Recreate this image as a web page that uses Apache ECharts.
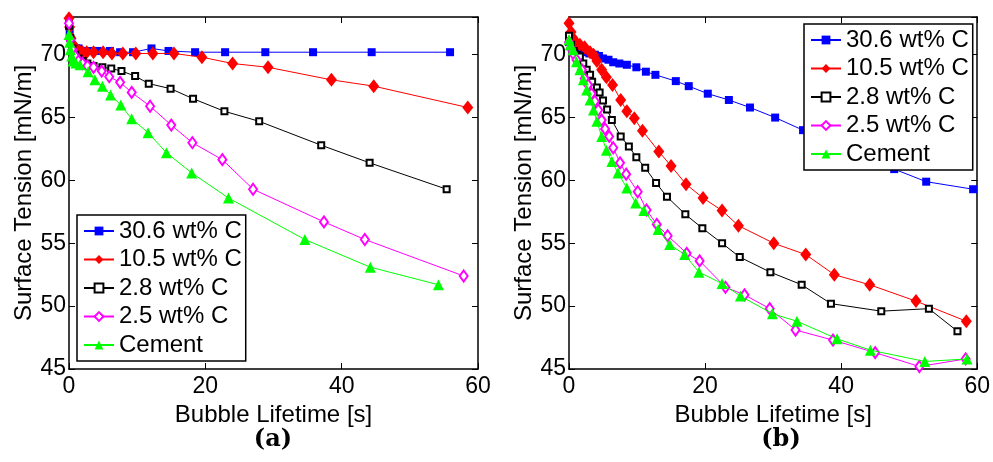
<!DOCTYPE html>
<html>
<head>
<meta charset="utf-8">
<script src="https://cdn.jsdelivr.net/npm/echarts@6/dist/echarts.min.js"></script>
<style>
html,body{margin:0;padding:0;background:#fff;}
#chart{width:993px;height:462px;}
</style>
</head>
<body>
<div id="chart"></div>
<script>
// ---- Data: panel (a) ----
const seriesNames = ['30.6 wt% C', '10.5 wt% C', '2.8 wt% C', '2.5 wt% C', 'Cement'];
const xTicks = [0, 20, 40, 60];
const yTicks = [45, 50, 55, 60, 65, 70];

const a_x_c306 = [0, 0.1, 0.3, 0.6, 1.0, 1.4, 2.2, 3.1, 4.2, 6.0, 7.5, 9.4, 12.1, 14.6, 18.5, 22.9, 28.8, 35.8, 44.4, 55.9];
const a_y_c306 = [72.6, 71.8, 71.0, 70.6, 70.5, 70.5, 70.3, 70.3, 70.3, 70.3, 70.2, 70.2, 70.5, 70.3, 70.2, 70.2, 70.2, 70.2, 70.2, 70.2];

const a_x_c105 = [0, 0.1, 0.3, 0.6, 1.0, 1.5, 2.0, 2.6, 3.6, 5.0, 6.3, 7.9, 9.8, 12.3, 15.4, 19.5, 24.0, 29.2, 38.5, 44.7, 58.5];
const a_y_c105 = [72.9, 72.2, 71.3, 70.8, 70.5, 70.3, 70.2, 70.2, 70.2, 70.2, 70.1, 70.1, 70.1, 70.1, 70.1, 69.8, 69.3, 69.0, 68.0, 67.5, 65.8];

const a_x_c28 = [0, 0.2, 0.5, 0.9, 1.4, 2.0, 2.7, 3.6, 4.9, 6.2, 7.7, 9.7, 11.7, 14.9, 18.2, 22.8, 27.9, 37.0, 44.1, 55.4];
const a_y_c28 = [72.3, 71.3, 70.5, 70.0, 69.7, 69.5, 69.3, 69.1, 69.0, 68.9, 68.7, 68.3, 67.7, 67.3, 66.5, 65.5, 64.7, 62.8, 61.4, 59.3];

const a_x_c25 = [0, 0.2, 0.5, 0.9, 1.4, 2.0, 2.7, 3.6, 4.8, 5.9, 7.5, 9.2, 11.9, 15.0, 18.1, 22.5, 27.0, 37.4, 43.4, 57.9];
const a_y_c25 = [72.5, 71.2, 70.4, 69.9, 69.5, 69.3, 69.1, 69.0, 68.7, 68.25, 67.8, 67.0, 65.9, 64.4, 63.0, 61.65, 59.3, 56.7, 55.3, 52.4];

const a_x_cem = [0, 0.1, 0.2, 0.4, 0.6, 1.0, 1.6, 2.8, 3.8, 4.9, 6.1, 7.6, 9.2, 11.6, 14.3, 18.0, 23.4, 34.6, 44.2, 54.2];
const a_y_cem = [71.6, 71.0, 70.4, 69.9, 69.5, 69.35, 69.2, 68.65, 68.0, 67.5, 66.8, 66.0, 64.9, 63.8, 62.2, 60.6, 58.6, 55.3, 53.1, 51.7];

// ---- Data: panel (b) ----
const b_x_c306 = [0, 0.4, 0.9, 1.5, 2.2, 3.0, 3.8, 4.4, 5.0, 5.8, 6.5, 7.4, 8.5, 9.9, 11.3, 12.7, 15.7, 17.6, 20.4, 23.5, 26.6, 30.3, 34.4, 38.8, 43.2, 47.8, 52.5, 59.4];
const b_y_c306 = [71.0, 70.7, 70.5, 70.3, 70.2, 70.1, 70.0, 69.9, 69.7, 69.6, 69.4, 69.3, 69.2, 69.0, 68.65, 68.4, 67.9, 67.5, 66.9, 66.4, 65.8, 65.0, 64.0, 63.1, 62.0, 60.9, 59.9, 59.3];

const b_x_c105 = [0, 0.3, 0.6, 1.0, 1.6, 2.3, 3.1, 3.6, 4.1, 4.8, 5.5, 6.4, 7.6, 8.5, 9.6, 10.8, 13.2, 15.0, 17.2, 19.7, 22.5, 24.9, 30.1, 34.8, 39.0, 44.2, 51.0, 58.4];
const b_y_c105 = [72.5, 71.8, 71.3, 71.0, 70.8, 70.6, 70.2, 70.0, 69.5, 68.8, 68.2, 67.6, 66.4, 65.5, 64.95, 63.95, 62.3, 61.15, 59.7, 58.6, 57.6, 56.4, 55.0, 54.1, 52.5, 51.7, 50.4, 48.8];

const b_x_c28 = [0, 0.3, 0.7, 1.1, 1.6, 2.1, 2.6, 3.1, 3.4, 4.1, 4.5, 5.0, 5.6, 6.3, 7.6, 8.8, 9.9, 11.2, 12.8, 14.4, 17.1, 19.6, 22.5, 25.1, 29.6, 34.2, 38.5, 45.9, 52.9, 57.1];
const b_y_c28 = [71.5, 70.8, 70.3, 70.0, 69.85, 69.3, 68.8, 68.4, 67.85, 67.4, 67.0, 66.35, 65.65, 64.8, 63.5, 62.7, 61.85, 61.0, 59.8, 58.7, 57.3, 56.2, 55.0, 53.9, 52.7, 51.7, 50.2, 49.6, 49.8, 48.0];

const b_x_c25 = [0, 0.3, 0.6, 1.1, 1.9, 2.3, 2.8, 3.3, 3.8, 4.3, 4.8, 5.3, 5.9, 6.5, 7.5, 8.4, 10.1, 11.4, 12.9, 14.5, 17.3, 19.2, 23.0, 25.8, 29.5, 33.3, 38.8, 45.0, 51.5, 58.3];
const b_y_c25 = [71.0, 70.5, 70.1, 69.6, 68.8, 68.1, 67.6, 66.9, 66.3, 65.6, 64.8, 64.1, 63.5, 62.6, 61.4, 60.5, 59.1, 57.65, 56.5, 55.6, 54.2, 53.6, 51.5, 50.9, 49.8, 48.1, 47.3, 46.3, 45.2, 45.8];

const b_x_cem = [0, 0.2, 0.6, 1.1, 1.6, 2.1, 2.6, 3.1, 3.6, 4.1, 4.8, 5.5, 6.3, 7.2, 8.5, 9.8, 11.0, 13.1, 14.8, 17.0, 19.1, 22.5, 25.2, 29.9, 33.5, 39.4, 44.3, 52.3, 58.5];
const b_y_cem = [71.2, 70.8, 70.4, 69.45, 68.8, 68.0, 67.2, 66.4, 65.6, 64.7, 63.5, 62.4, 61.5, 60.6, 59.4, 58.2, 57.6, 56.1, 54.9, 54.1, 52.7, 51.8, 50.8, 49.4, 48.8, 47.4, 46.5, 45.6, 45.8];

// ---- Build chart ----
const zip = (xs, ys) => xs.map((x, i) => [x, ys[i]]);
const colors = ['#0000ff', '#ff0000', '#000000', '#ff00ff', '#00ff00'];
const symbols = ['rect', 'diamond', 'emptyRect', 'emptyDiamond', 'triangle'];
const symbolSizes = [8, [11, 14], 6, [8, 11], 11];
const panelA = [zip(a_x_c306, a_y_c306), zip(a_x_c105, a_y_c105), zip(a_x_c28, a_y_c28), zip(a_x_c25, a_y_c25), zip(a_x_cem, a_y_cem)];
const panelB = [zip(b_x_c306, b_y_c306), zip(b_x_c105, b_y_c105), zip(b_x_c28, b_y_c28), zip(b_x_c25, b_y_c25), zip(b_x_cem, b_y_cem)];

const FONT = '"Liberation Sans", Arial, Helvetica, sans-serif';
const axisLine = { show: true, onZero: false, lineStyle: { color: '#000', width: 1.5 } };

function xAxes(gi) {
  return [
    {
      gridIndex: gi, type: 'value', position: 'bottom', min: xTicks[0], max: xTicks[xTicks.length - 1], interval: 20,
      axisLine, axisTick: { inside: true, length: 6, lineStyle: { color: '#000', width: 1 } },
      axisLabel: { color: '#000', fontSize: 23, fontFamily: FONT, margin: 6 },
      splitLine: { show: false },
      name: 'Bubble Lifetime [s]', nameLocation: 'middle', nameGap: 24,
      nameTextStyle: { color: '#000', fontSize: 24, fontFamily: FONT }
    },
    {
      gridIndex: gi, type: 'value', position: 'top', min: xTicks[0], max: xTicks[xTicks.length - 1], interval: 20,
      axisLine, axisTick: { inside: true, length: 6, lineStyle: { color: '#000', width: 1 } },
      axisLabel: { show: false }, splitLine: { show: false }
    }
  ];
}
function yAxes(gi) {
  return [
    {
      gridIndex: gi, type: 'value', position: 'left', min: yTicks[0], max: 73, interval: 5,
      axisLine, axisTick: { inside: true, length: 6, lineStyle: { color: '#000', width: 1 } },
      axisLabel: { color: '#000', fontSize: 23, fontFamily: FONT, margin: 3, showMaxLabel: false },
      splitLine: { show: false },
      name: 'Surface Tension [mN/m]', nameLocation: 'middle', nameGap: 33,
      nameTextStyle: { color: '#000', fontSize: 24, fontFamily: FONT }
    },
    {
      gridIndex: gi, type: 'value', position: 'right', min: yTicks[0], max: 73, interval: 5,
      axisLine, axisTick: { inside: true, length: 6, lineStyle: { color: '#000', width: 1 } },
      axisLabel: { show: false }, splitLine: { show: false }
    }
  ];
}

function makeSeries(data, gi) {
  return data.map((d, i) => ({
    name: seriesNames[i], type: 'line', xAxisIndex: gi * 2, yAxisIndex: gi * 2,
    data: d, symbol: symbols[i], symbolSize: symbolSizes[i], showAllSymbol: true,
    color: colors[i],
    lineStyle: { color: colors[i], width: 1 },
    itemStyle: { color: colors[i], borderWidth: 1 },
    emphasis: { disabled: true }, animation: false, z: 2 + i * 0.01
  }));
}

function legend(left, top) {
  return {
    orient: 'vertical', left, top, data: seriesNames,
    backgroundColor: '#fff', borderColor: '#000', borderWidth: 1.5, padding: [4, 4, 4, 6],
    itemWidth: 30, itemHeight: 11, itemGap: 4.5, selectedMode: false,
    textStyle: { color: '#000', fontSize: 24, fontFamily: FONT, lineHeight: 24 }, z: 10
  };
}

const chart = echarts.init(document.getElementById('chart'), null, { renderer: 'canvas' });
chart.setOption({
  backgroundColor: '#fff',
  animation: false,
  grid: [
    { left: 69, right: 515, top: 17, bottom: 93, show: false },
    { left: 569, right: 15, top: 17, bottom: 93, show: false }
  ],
  xAxis: [...xAxes(0), ...xAxes(1)],
  yAxis: [...yAxes(0), ...yAxes(1)],
  legend: [legend(77, 215), legend(804, 24)],
  series: [...makeSeries(panelA, 0), ...makeSeries(panelB, 1)],
  graphic: [
    { type: 'text', x: 273, y: 440, style: { text: '(a)', fill: '#000', font: 'bold 24px "DejaVu Serif", "Liberation Serif", serif', textAlign: 'center', textVerticalAlign: 'middle' } },
    { type: 'text', x: 781, y: 440, style: { text: '(b)', fill: '#000', font: 'bold 24px "DejaVu Serif", "Liberation Serif", serif', textAlign: 'center', textVerticalAlign: 'middle' } }
  ]
});
</script>
</body>
</html>
